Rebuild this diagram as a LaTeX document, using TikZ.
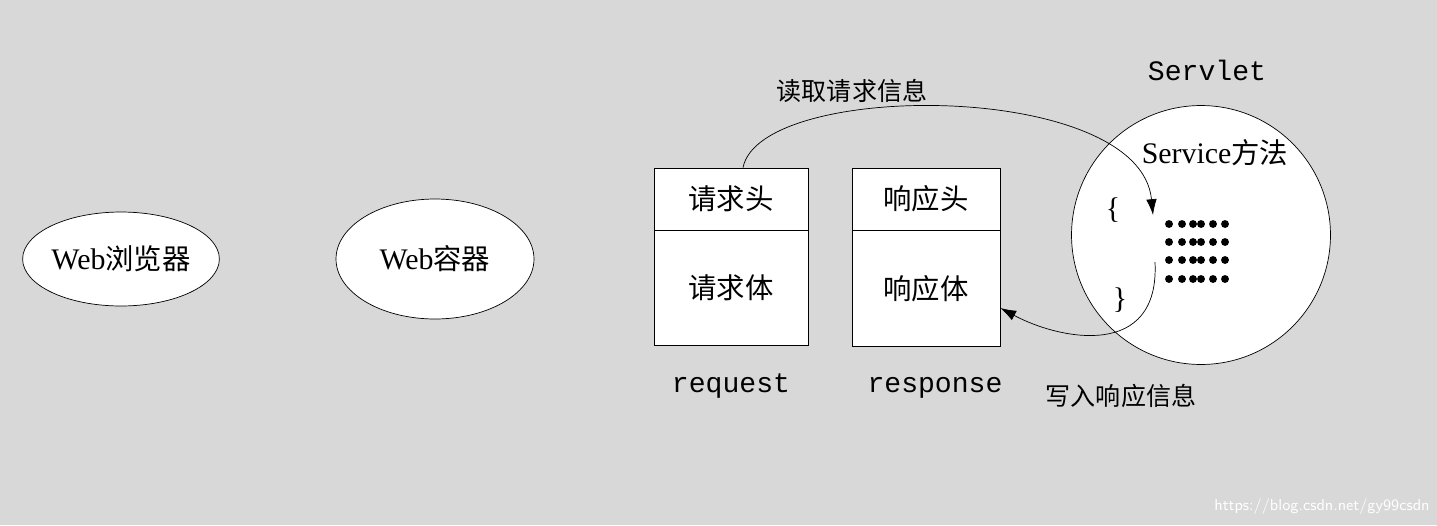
\documentclass[tikz,border=0pt]{standalone}
\usepackage{fontspec}
\setmainfont{Liberation Serif}
\setmonofont{Liberation Mono}
\newfontfamily\cjk{Noto Sans CJK SC}[Scale=0.95]
\usetikzlibrary{arrows.meta,positioning,shapes.geometric}
\tikzset{
    oval/.style={draw,ellipse,fill=white,inner sep=0pt},
    part box/.style={draw,fill=white,minimum width=3.08cm,inner sep=0pt},
    big label/.style={font=\fontsize{17}{17}\selectfont},
    mono label/.style={font=\ttfamily\fontsize{16}{16}\selectfont},
    arr/.style={-{Latex[length=9pt,width=6pt]},thin},
    dotty/.style={circle,fill=black,inner sep=0pt,minimum size=4.5pt},
}
\begin{document}
\begin{tikzpicture}[x=0.02cm,y=-0.02cm]
    \useasboundingbox[fill={rgb,255:red,216;green,216;blue,216}] (0,0) rectangle (1437,525);
    % ellipses on the left
    \node[oval,big label,minimum width=3.76cm,minimum height=1.88cm] (browser) at (121,259) {Web{\cjk 浏览器}};
    \node[oval,big label,minimum width=3.96cm,minimum height=2.4cm] (container) at (435,259) {Web{\cjk 容器}};
    % request and response boxes
    \node[part box,minimum height=1.24cm,big label] (reqhead) at (731,199) {\cjk 请求头};
    \node[part box,minimum height=2.3cm,big label,below=0pt of reqhead] (reqbody) {\cjk 请求体};
    \node[mono label] (reqlabel) at (731,386) {request};
    \node[part box,minimum width=2.96cm,minimum height=1.24cm,big label] (resphead) at (926,199) {\cjk 响应头};
    \node[part box,minimum width=2.96cm,minimum height=2.32cm,big label,below=0pt of resphead] (respbody) {\cjk 响应体};
    \node[mono label] (resplabel) at (935,388) {response};
    % servlet
    \node[draw,circle,fill=white,minimum size=5.18cm,inner sep=0pt] (servlet) at (1201,235) {};
    \node[mono label] (servletlabel) at (1207,70) {Servlet};
    \node[big label] (service) at (1215,153) {Service{\cjk 方法}};
    \node[big label] (lbrace) at (1113,210) {\{};
    \node[big label] (rbrace) at (1120,300) {\}};
    \foreach \y in {224,242,260,279}
        \foreach \x in {1169,1182,1193,1201,1213,1225}
            \node[dotty] at (\x,\y) {};
    % arrows
    \coordinate (readend) at (1153,215);
    \coordinate (writestart) at (1155,262);
    \draw[arr] (reqhead.north) ++(12,0) .. controls (760,80) and (1140,80) .. (readend);
    \node[font=\cjk\fontsize{15}{15}\selectfont] (readlabel) at (852,91) {读取请求信息};
    \draw[arr] (writestart) .. controls (1160,360) and (1060,340) .. (respbody.east|-0,308);
    \node[font=\cjk\fontsize{15}{15}\selectfont] (writelabel) at (1121,396) {写入响应信息};
    \node[white,font=\sffamily\fontsize{9}{9}\selectfont] (mark) at (1322,507) {https://blog.csdn.net/gy99csdn};
\end{tikzpicture}
\end{document}
